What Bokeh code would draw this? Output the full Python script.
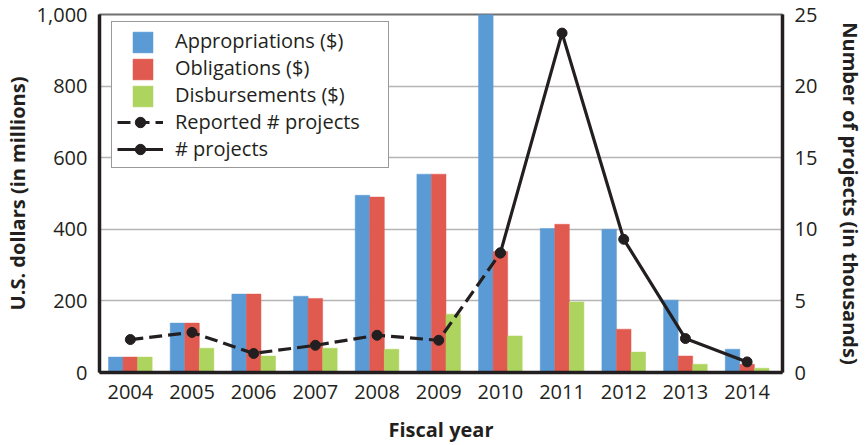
from bokeh.plotting import figure
from bokeh.models import (Range1d, LinearAxis, FixedTicker, NumeralTickFormatter,
                          Legend, LegendItem, ColumnDataSource)
from bokeh.transform import dodge
from bokeh.embed import file_html
from bokeh.resources import INLINE

# ---- data ----
years = [2004, 2005, 2006, 2007, 2008, 2009, 2010, 2011, 2012, 2013, 2014]
appropriations = [43, 138, 219, 213, 495, 554, 1000, 402, 400, 202, 65]
obligations = [43, 138, 219, 207, 490, 554, 338, 414, 121, 46, 23]
disbursements = [43, 68, 46, 68, 65, 163, 102, 197, 57, 23, 12]

reported_years = [2004, 2005, 2006, 2007, 2008, 2009, 2010]
reported_projects = [2.3, 2.8, 1.33, 1.9, 2.6, 2.25, 8.35]
project_years = [2010, 2011, 2012, 2013, 2014]
projects = [8.35, 23.7, 9.3, 2.37, 0.74]

dollar_ticks = [0, 200, 400, 600, 800, 1000]
project_ticks = [0, 5, 10, 15, 20, 25]

series_labels = ["Appropriations ($)", "Obligations ($)", "Disbursements ($)"]
line_labels = ["Reported # projects", "# projects"]

# ---- style ----
FONT = "Open Sans"
TXT = "#231f20"
BLUE = "#5b9bd5"
RED = "#e05a50"
GREEN = "#aed460"
BW = 0.236

p = figure(width=867, height=445, output_backend="svg", toolbar_location=None,
           x_range=Range1d(2003.5, 2014.574), y_range=Range1d(0, 1000),
           min_border_left=98, min_border_right=83, min_border_top=14,
           min_border_bottom=73, background_fill_color="white",
           border_fill_color="white")
p.extra_y_ranges = {"proj": Range1d(0, 25)}

src = ColumnDataSource(dict(year=years, app=appropriations, obl=obligations,
                            dis=disbursements))
r_app = p.vbar(x=dodge("year", -BW), top="app", width=BW, source=src,
               fill_color=BLUE, line_color=BLUE, line_width=0.5)
r_obl = p.vbar(x=dodge("year", 0), top="obl", width=BW, source=src,
               fill_color=RED, line_color=RED, line_width=0.5)
r_dis = p.vbar(x=dodge("year", BW), top="dis", width=BW, source=src,
               fill_color=GREEN, line_color=GREEN, line_width=0.5)

l_rep = p.line(reported_years, reported_projects, y_range_name="proj",
               line_color=TXT, line_width=3.2, line_dash="13 6")
c_rep = p.scatter(reported_years, reported_projects, y_range_name="proj",
                  size=10, fill_color=TXT, line_color=TXT)
l_prj = p.line(project_years, projects, y_range_name="proj",
               line_color=TXT, line_width=3.2)
c_prj = p.scatter(project_years, projects, y_range_name="proj",
                  size=10, fill_color=TXT, line_color=TXT)

dummy = p.scatter(x=[], y=[], size=0, fill_alpha=0, line_alpha=0)

# ---- axes ----
right = LinearAxis(y_range_name="proj")
p.add_layout(right, "right")

left = p.left[0]
bottom = p.below[0]
left.ticker = FixedTicker(ticks=dollar_ticks)
left.formatter = NumeralTickFormatter(format="0,0")
left.axis_label = "U.S. dollars (in millions)"
right.ticker = FixedTicker(ticks=project_ticks)
right.axis_label = "Number of projects (in thousands)"
bottom.ticker = FixedTicker(ticks=years)
bottom.axis_label = "Fiscal year"

for ax in (left, right, bottom):
    ax.axis_line_color = TXT
    ax.axis_line_width = 3.5
    ax.major_tick_line_color = None
    ax.minor_tick_line_color = None
    ax.major_tick_out = 0
    ax.major_tick_in = 0
    ax.minor_tick_out = 0
    ax.minor_tick_in = 0
    ax.major_label_text_font = FONT
    ax.major_label_text_font_size = "20px"
    ax.major_label_text_color = TXT
    ax.axis_label_text_font = FONT
    ax.axis_label_text_font_style = "bold"
    ax.axis_label_text_font_size = "20px"
    ax.axis_label_text_color = TXT
left.major_label_standoff = 12
left.axis_label_standoff = 3
right.major_label_standoff = 12
right.axis_label_standoff = 17
bottom.major_label_standoff = 12
bottom.axis_label_standoff = 14

p.xgrid.grid_line_color = None
p.ygrid.ticker = FixedTicker(ticks=dollar_ticks)
p.ygrid.grid_line_color = "#b5b5b5"
p.ygrid.grid_line_width = 1.5
p.outline_line_color = "#707070"
p.outline_line_width = 2

# ---- legends ----
common = dict(margin=0, padding=5, spacing=0,
              glyph_height=26, label_height=27, label_standoff=12,
              label_width=208,
              label_text_font=FONT, label_text_font_size="20px",
              label_text_color=TXT)

legend_b = Legend(items=[
    LegendItem(label=series_labels[0], renderers=[dummy]),
    LegendItem(label=series_labels[1], renderers=[dummy]),
    LegendItem(label=series_labels[2], renderers=[dummy]),
    LegendItem(label=line_labels[0], renderers=[l_rep, c_rep]),
    LegendItem(label=line_labels[1], renderers=[l_prj, c_prj]),
], location=(12, 204), glyph_width=46, border_line_color="#333333",
   border_line_width=1.5, background_fill_color="white",
   background_fill_alpha=1, **common)

legend_a = Legend(items=[
    LegendItem(label=" ", renderers=[r_app]),
    LegendItem(label=" ", renderers=[r_obl]),
    LegendItem(label=" ", renderers=[r_dis]),
    LegendItem(label=" ", renderers=[dummy]),
    LegendItem(label=" ", renderers=[dummy]),
], location=(26, 204), glyph_width=25, border_line_alpha=0,
   background_fill_alpha=0, **common)

p.add_layout(legend_b, "center")
p.add_layout(legend_a, "center")

open("out.html", "w").write(file_html(p, INLINE))
